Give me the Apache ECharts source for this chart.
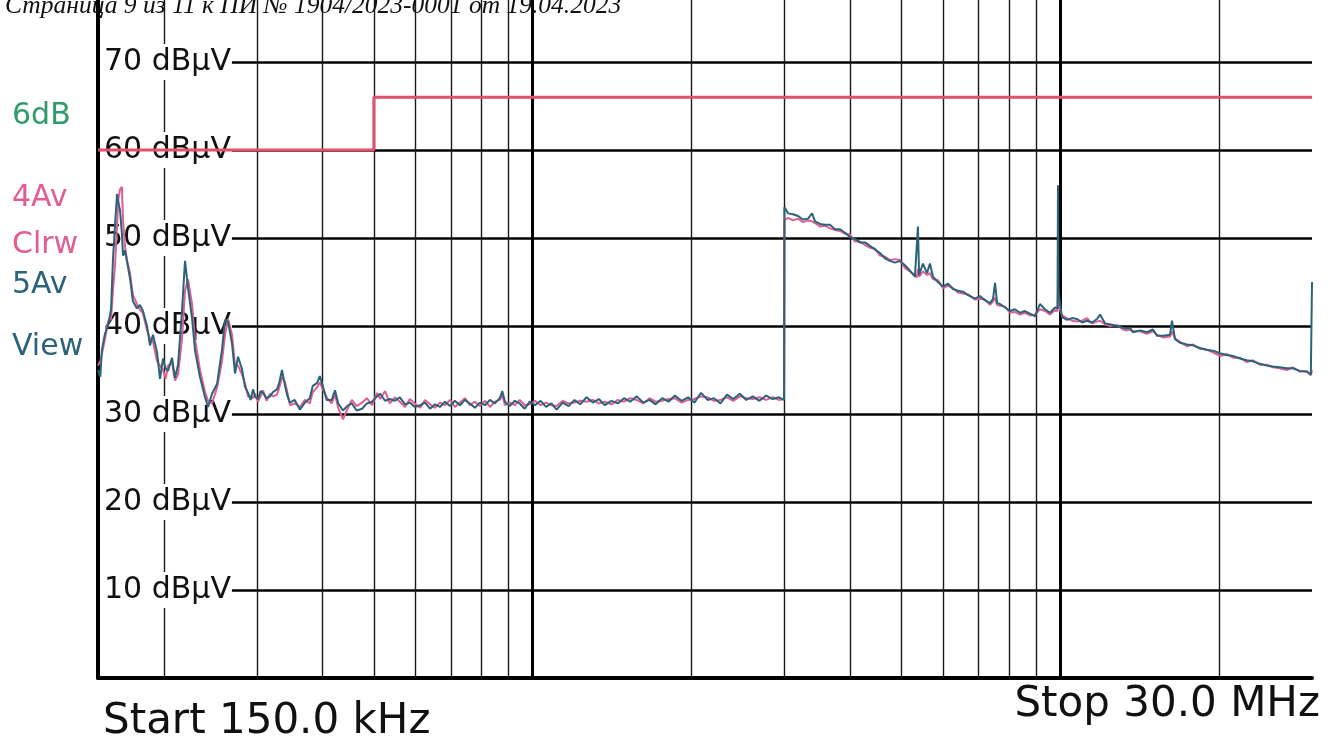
<!DOCTYPE html>
<html>
<head>
<meta charset="utf-8">
<script src="https://cdn.jsdelivr.net/npm/echarts@6/dist/echarts.min.js"></script>
<style>
  html, body { margin: 0; padding: 0; background: #fff; overflow: hidden; }
  #wrap { position: relative; width: 1337px; height: 742px; overflow: hidden; }
  #chart { position: absolute; left: 0; top: -26px; width: 1337px; height: 768px; }
</style>
</head>
<body>
<div id="wrap"><div id="chart"></div></div>
<script>
// ---- Data (frequency in kHz, level in dBµV) ----
const freqKHz = [
  150, 151.5, 152.6, 154.6, 156.7, 158.8, 160.1, 161.6, 163.0, 164.0,
  165.1, 166.5, 167.3, 168.8, 170.2, 172.5, 174.7, 177.8, 180.2, 182.5,
  185.8, 188.2, 190.7, 194.1, 196.6, 199.2, 201.5, 203.6, 207.2, 209.9,
  212.7, 216.4, 219.3, 222.2, 226.1, 229.1, 234.1, 239.3, 242.5, 246.7,
  252.2, 257.7, 261.1, 264.6, 269.2, 272.8, 276.4, 281.2, 284.9, 288.7,
  292, 295.1, 298, 301.6, 305, 308.2, 313, 317.8, 322, 327.6,
  331, 334.8, 339.3, 343, 346.7,
  354, 362, 370, 378, 383, 390, 395, 400, 407, 416,
  422, 428, 437, 445, 454, 464, 475, 485, 496, 507,
  514, 525, 536, 548, 560, 573, 585, 598, 612, 625,
  639, 653, 667, 682, 697, 712, 728, 744, 760, 777,
  794, 812, 830, 848, 866, 876, 886, 905, 925, 945,
  966, 987, 1010, 1035, 1060, 1085, 1110, 1140, 1170, 1200,
  1230, 1265, 1300, 1335, 1370, 1410, 1450, 1490, 1530, 1575,
  1620, 1665, 1710, 1760, 1810, 1860, 1915, 1970, 2025, 2085,
  2145, 2205, 2270, 2335, 2400, 2470, 2540, 2615, 2690, 2770,
  2850, 2930, 2995,
  3000, 3048, 3115, 3184, 3254, 3326, 3384, 3429, 3504, 3582,
  3660, 3741, 3823, 3907, 3993, 4081, 4171, 4263, 4357, 4453,
  4551, 4651, 4755, 4860, 4966, 5076, 5188, 5302, 5345, 5373,
  5400, 5492, 5589, 5662, 5737, 5863, 5993, 6126, 6261, 6399,
  6541, 6686, 6893, 7045, 7201, 7360, 7458, 7523, 7590, 7689,
  7859, 8032, 8205, 8387, 8572, 8761, 8955, 9151, 9354, 9561,
  9772, 9880, 9901, 9925, 10076, 10297, 10524, 10757, 10995, 11236,
  11484, 11739, 11893, 12155, 12423, 12810, 13150, 13380, 13554, 13733,
  14161, 14601, 14987, 15250, 15657, 16143, 16283, 16499, 16861, 17384,
  17842, 18396, 18967, 19467, 20071, 20694, 21239, 21898, 22577, 23172,
  23891, 24633, 25282, 26067, 26876, 27585, 28441, 29325, 29850, 30000
];

// Trace "5Av View" (dark teal)
const viewDB = [
  35.0, 34.2, 37.3, 39.1, 40.0, 41.9, 47.5, 51.5, 55.0, 54.0,
  53.2, 50.5, 48.0, 48.6, 48.8, 45.4, 42.8, 42.0, 42.4, 41.7,
  40.0, 37.8, 39.0, 37.0, 34.0, 36.3, 35.2, 34.9, 36.4, 34.1,
  35.6, 41.7, 47.4, 44.3, 40.9, 37.2, 34.2, 31.9, 30.8, 32.3,
  33.4, 37.3, 40.7, 40.5, 38.0, 34.6, 36.5, 35.1, 33.1, 32.4,
  31.6, 32.8, 31.9, 31.7, 32.6, 32.4, 31.8, 32.0, 32.5, 32.8,
  33.6, 35.0, 33.2, 32.0, 31.3,
  31.6, 30.5, 31.3, 31.8, 33.2, 33.5, 34.3, 33.2, 31.6, 31.6,
  32.7, 31.2, 30.4, 30.9, 31.2, 30.4, 30.6, 31.2, 31.4, 32.0,
  32.3, 31.5, 31.7, 31.5, 31.9, 31.1, 31.3, 30.8, 31.0, 31.3,
  30.6, 31.1, 30.8, 31.4, 30.9, 31.5, 31.0, 31.6, 31.2, 30.7,
  31.3, 31.0, 31.6, 31.2, 31.8, 32.6, 31.4, 30.9, 31.5, 31.2,
  30.6, 31.4, 31.0, 31.5, 30.8, 31.2, 30.5, 31.3, 30.9, 31.6,
  31.1, 31.9, 31.3, 31.7, 31.0, 31.5, 31.2, 31.8, 31.4, 32.0,
  31.3, 31.6, 31.1, 31.8, 31.4, 32.1, 31.5, 31.9, 31.3, 32.4,
  31.6, 31.8, 31.2, 32.2, 31.7, 32.3, 31.6, 32.0, 31.5, 32.1,
  31.7, 31.9, 31.6,
  53.5, 52.8, 52.7, 52.5, 52.1, 52.2, 52.8, 51.9, 51.6, 51.5,
  51.5, 51.0, 51.0, 50.6, 50.1, 49.9, 49.5, 49.5, 49.1, 48.7,
  48.3, 47.7, 47.4, 47.2, 47.4, 46.9, 46.3, 45.6, 45.7, 51.3,
  45.8, 47.1, 46.0, 47.1, 45.6, 45.0, 44.5, 44.8, 44.2, 44.0,
  43.9, 43.5, 43.1, 43.4, 42.9, 42.6, 43.1, 44.9, 42.6, 42.5,
  42.1, 41.7, 41.9, 41.5, 41.7, 41.4, 41.1, 42.5, 41.9, 41.5,
  42.1, 42.0, 56.0, 43.8, 41.0, 40.7, 40.9, 40.8, 40.4, 40.6,
  40.4, 40.8, 41.3, 40.3, 40.2, 40.0, 39.8, 39.7, 39.8, 39.3,
  39.5, 39.3, 39.6, 38.9, 38.9, 39.0, 40.6, 38.5, 38.1, 37.9,
  37.8, 37.5, 37.3, 37.2, 36.9, 36.7, 36.6, 36.3, 36.1, 36.0,
  35.7, 35.5, 35.4, 35.3, 35.2, 35.2, 34.9, 34.8, 34.5, 45.0
];

// Trace "4Av Clrw" (pink)
const clrwDB = [
  35.5, 36.0, 36.8, 38.5, 40.5, 40.8, 44.0, 47.0, 51.5, 54.5,
  55.5, 55.8, 52.0, 49.0, 47.5, 46.0, 43.5, 42.5, 41.8, 41.5,
  39.5, 38.6, 38.2, 36.0, 35.5, 35.0, 34.0, 35.5, 35.8, 33.8,
  34.5, 38.5, 44.0, 45.3, 42.5, 38.5, 35.0, 32.5, 31.5, 31.2,
  33.0, 36.0, 39.0, 40.8, 39.0, 35.5, 35.5, 34.5, 33.5, 32.0,
  32.0, 31.8, 32.3, 31.4, 32.0, 32.7, 31.5, 32.3, 32.0, 32.2,
  33.0, 34.2, 33.6, 32.4, 31.0,
  31.2, 30.8, 31.6, 31.2, 32.5, 33.0, 33.6, 32.8, 31.9, 31.2,
  32.2, 30.7, 29.4, 30.5, 31.6, 30.9, 31.3, 31.8, 31.0, 32.4,
  31.7, 32.6, 31.2, 31.9, 31.4, 30.8, 31.7, 31.2, 30.7, 31.6,
  31.1, 30.7, 31.3, 31.0, 31.6, 30.8, 31.3, 31.8, 31.0, 31.4,
  30.9, 31.5, 30.8, 31.4, 31.6, 32.1, 31.0, 31.3, 31.0, 31.6,
  31.0, 31.1, 31.5, 31.0, 31.3, 31.0, 30.9, 31.5, 31.2, 31.3,
  31.5, 31.4, 31.6, 31.2, 31.4, 31.1, 31.6, 31.4, 31.8, 31.6,
  31.2, 31.8, 31.4, 31.5, 31.7, 31.8, 31.3, 31.6, 31.7, 32.0,
  31.9, 31.5, 31.6, 31.9, 31.5, 32.0, 31.8, 31.7, 31.9, 31.6,
  31.9, 31.6, 31.7,
  52.0, 52.3, 52.0, 52.2, 51.8, 52.0, 51.9, 51.7, 51.3, 51.4,
  51.1, 50.9, 50.8, 50.5, 50.4, 49.6, 49.6, 49.2, 48.9, 48.8,
  48.0, 47.9, 47.5, 47.6, 47.5, 46.6, 46.2, 45.8, 45.5, 46.5,
  45.6, 46.2, 45.8, 46.0, 45.3, 45.2, 44.3, 44.6, 44.3, 43.8,
  43.7, 43.6, 43.0, 43.1, 43.0, 42.4, 42.8, 43.2, 42.4, 42.3,
  42.2, 41.5, 41.6, 41.3, 41.5, 41.2, 41.3, 41.9, 41.7, 41.3,
  41.8, 41.7, 44.0, 42.3, 41.2, 40.9, 40.6, 40.5, 40.6, 40.9,
  40.3, 40.5, 40.6, 40.2, 40.0, 40.1, 39.6, 39.5, 39.6, 39.4,
  39.4, 39.1, 39.4, 39.0, 38.7, 38.8, 39.4, 38.6, 38.2, 37.7,
  37.9, 37.4, 37.3, 37.0, 36.6, 36.8, 36.4, 36.4, 35.9, 36.1,
  35.6, 35.6, 35.3, 35.2, 35.0, 35.3, 34.8, 34.9, 34.4, 35.0
];

// Limit line
const limitFreqKHz = [150, 500, 500, 30000];
const limitDB = [60, 60, 66, 66];

// Vertical grid frequencies (kHz); decades drawn heavier
const gridFreqKHz = [200, 300, 400, 500, 600, 700, 800, 900, 1000,
  2000, 3000, 4000, 5000, 6000, 7000, 8000, 9000, 10000, 20000];
const decadeFreqKHz = [1000, 10000];

// Texts
const headerText = 'Страница 9 из 11 к ПИ № 1904/2023-0001 от 19.04.2023';
const startText = 'Start 150.0 kHz';
const stopText = 'Stop 30.0 MHz';
const sideLabels = ['6dB', '4Av', 'Clrw', '5Av', 'View'];
const yUnit = 'dBμV';

// ---- Build ----
const zip = (xs, ys) => xs.map((x, i) => [x, ys[i]]);

const chart = echarts.init(document.getElementById('chart'), null, { renderer: 'canvas' });

const OFF = 26; // chart canvas is shifted up by this many px
const BLACK = '#111';
const PINK = '#e25d93';
const TEAL = '#2b6379';
const GREEN = '#2f9a6b';
const LIMIT = '#e2506b';

const sideColors = [GREEN, PINK, PINK, TEAL, TEAL];
const sideY = [116, 198, 245, 285, 347];

const option = {
  backgroundColor: '#ffffff',
  animation: false,
  grid: { left: 98, right: 25, top: 0, bottom: 64, containLabel: false, outerBoundsMode: 'none' },
  xAxis: {
    type: 'log', logBase: 10, min: 150, max: 30000,
    axisLine: { show: true, onZero: false, lineStyle: { color: '#000', width: 4 } },
    axisTick: { show: false },
    axisLabel: { show: false },
    splitLine: { show: false }
  },
  yAxis: {
    type: 'value', min: 0, max: 80, interval: 10,
    axisLine: { show: true, lineStyle: { color: '#000', width: 4 } },
    axisTick: { show: false },
    axisLabel: {
      inside: true, margin: 2, showMinLabel: false,
      fontFamily: 'DejaVu Sans', fontSize: 30, color: BLACK,
      backgroundColor: '#ffffff', padding: [3, 1, 3, 4],
      formatter: v => v + ' ' + yUnit
    },
    splitLine: { show: true, lineStyle: { color: '#000', width: 2.5 } }
  },
  series: [
    {
      name: 'limit', type: 'line', data: zip(limitFreqKHz, limitDB),
      symbol: 'none', lineStyle: { color: LIMIT, width: 3 }, z: 3, silent: true,
      markLine: {
        z: 0, silent: true, symbol: ['none', 'none'], animation: false,
        label: { show: false },
        lineStyle: { color: '#1a1a1a', type: 'solid', width: 1.4 },
        emphasis: { disabled: true },
        data: gridFreqKHz.map(f => ({
          xAxis: f,
          lineStyle: { color: decadeFreqKHz.includes(f) ? '#000' : '#1a1a1a',
                       width: decadeFreqKHz.includes(f) ? 3 : 1.4, type: 'solid' }
        }))
      }
    },
    {
      name: '4Av Clrw', type: 'line', data: zip(freqKHz, clrwDB),
      symbol: 'none', lineStyle: { color: PINK, width: 2 }, z: 4, silent: true
    },
    {
      name: '5Av View', type: 'line', data: zip(freqKHz, viewDB),
      symbol: 'none', lineStyle: { color: TEAL, width: 2 }, z: 5, silent: true
    }
  ],
  graphic: [
    { type: 'text', x: 5, y: 6 + OFF, z: 100,
      style: { text: headerText, font: 'italic 25.5px "Liberation Serif"', fill: BLACK,
               align: 'left', verticalAlign: 'middle' } },
    { type: 'text', x: 103, y: 722 + OFF, z: 100,
      style: { text: startText, font: '42px "DejaVu Sans"', fill: BLACK,
               align: 'left', verticalAlign: 'middle' } },
    { type: 'text', x: 1320, y: 705 + OFF, z: 100,
      style: { text: stopText, font: '42px "DejaVu Sans"', fill: BLACK,
               align: 'right', verticalAlign: 'middle' } }
  ].concat(sideLabels.map((t, i) => ({
    type: 'text', x: 12, y: sideY[i] + OFF, z: 100,
    style: { text: t, font: '30px "DejaVu Sans"', fill: sideColors[i],
             align: 'left', verticalAlign: 'middle' }
  })))
};

chart.setOption(option);
</script>
</body>
</html>
